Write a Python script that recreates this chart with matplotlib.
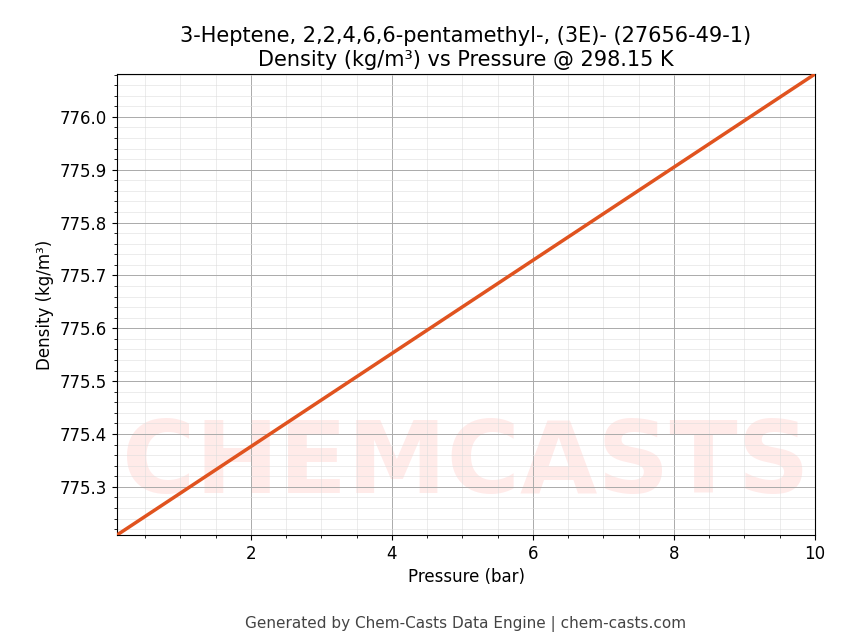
import matplotlib
matplotlib.use("Agg")
import matplotlib.pyplot as plt
from matplotlib.ticker import AutoMinorLocator

pressure = [0.1, 10.0]
density = [775.209, 776.081]

fig = plt.figure(figsize=(8.43, 6.44), dpi=100)
ax = fig.add_axes([117/843, 1-535/644, (815-117)/843, (535-74)/644])
ax.text(0.5, 0.15, "CHEMCASTS", transform=ax.transAxes, fontsize=72, fontweight="bold",
        color="#ff3b30", alpha=0.1, ha="center", va="center", zorder=0)
ax.plot(pressure, density, color="#e0531f", lw=2.5, zorder=3)
ax.set_xlim(0.1, 10)
ax.set_ylim(775.209, 776.081)
ax.xaxis.set_minor_locator(AutoMinorLocator())
ax.yaxis.set_minor_locator(AutoMinorLocator())
ax.grid(which="major", color="#aaaaaa", lw=0.7)
ax.grid(which="minor", color="#dddddd", lw=0.4)
ax.tick_params(labelsize=12)
ax.set_xlabel("Pressure (bar)", fontsize=12)
ax.set_ylabel("Density (kg/m³)", fontsize=12)
ax.set_title("3-Heptene, 2,2,4,6,6-pentamethyl-, (3E)- (27656-49-1)\nDensity (kg/m³) vs Pressure @ 298.15 K", fontsize=15)
fig.text(466/843, 0.025, "Generated by Chem-Casts Data Engine | chem-casts.com", ha="center", fontsize=11, color="#444444")
fig.savefig("out.png", dpi=100)
